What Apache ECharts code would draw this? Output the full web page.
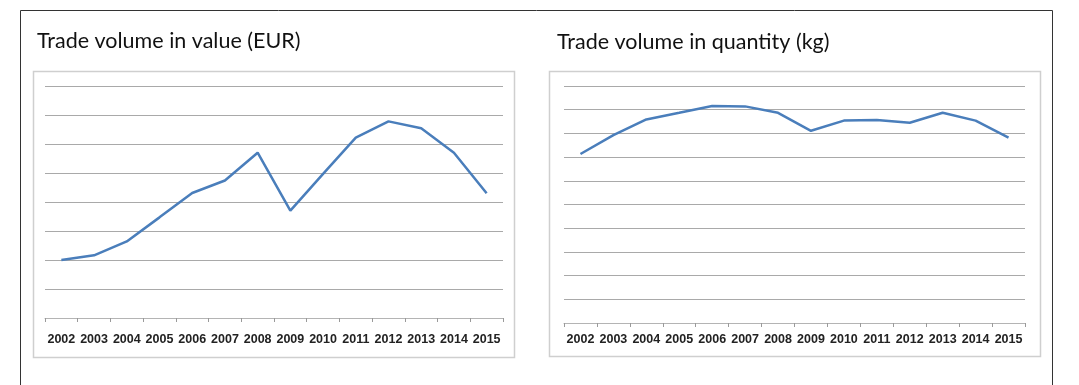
<!DOCTYPE html>
<html>
<head>
<meta charset="utf-8">
<script src="https://cdn.jsdelivr.net/npm/echarts@6/dist/echarts.min.js"></script>
<style>
  html, body { margin: 0; padding: 0; background: #fff; }
  #main { width: 1079px; height: 385px; }
</style>
</head>
<body>
<div id="main"></div>
<script>
// years on the x axis (same for both panels)
var years = ['2002', '2003', '2004', '2005', '2006', '2007', '2008', '2009', '2010', '2011', '2012', '2013', '2014', '2015'];
// trade volume in value (EUR), in gridline units
var valueEur = [2.0, 2.16, 2.64, 3.47, 4.31, 4.74, 5.70, 3.70, 4.97, 6.22, 6.78, 6.54, 5.70, 4.30];
// trade volume in quantity (kg), in gridline units
var quantityKg = [7.13, 7.93, 8.59, 8.87, 9.16, 9.14, 8.87, 8.11, 8.54, 8.57, 8.45, 8.87, 8.54, 7.82];

var lineBlue = '#4a7ebb';
var gridGrey = '#a9a9a9';

function xAxisFor(idx, labelMargin) {
    return {
        type: 'category',
        gridIndex: idx,
        data: years,
        boundaryGap: true,
        axisLine: { show: true, lineStyle: { color: '#b4b4b4', width: 1 } },
        axisTick: { show: true, length: 4, inside: false, lineStyle: { color: '#9a9a9a' } },
        axisLabel: {
            interval: 0,
            color: '#222',
            fontFamily: '"Liberation Sans", Arial, sans-serif',
            fontWeight: 'bold',
            fontSize: 12.5,
            margin: labelMargin
        }
    };
}

function yAxisFor(idx, max) {
    return {
        type: 'value',
        gridIndex: idx,
        min: 0,
        max: max,
        interval: 1,
        axisLine: { show: false },
        axisTick: { show: false },
        axisLabel: { show: false },
        splitLine: { show: true, lineStyle: { color: gridGrey, width: 1 } }
    };
}

var myChart = echarts.init(document.getElementById('main'));
var option = {
    animation: false,
    backgroundColor: '#fff',
    title: [
        { text: 'Trade volume in value (EUR)', left: 32, top: 25,
          textStyle: { fontFamily: 'Lato, sans-serif', fontSize: 21.5, fontWeight: 'normal', color: '#111' } },
        { text: 'Trade volume in quantity (kg)', left: 552, top: 26,
          textStyle: { fontFamily: 'Lato, sans-serif', fontSize: 21.5, fontWeight: 'normal', color: '#111' } }
    ],
    graphic: [
        // outer frame (open at the bottom)
        { type: 'polyline', silent: true, z: 0,
          shape: { points: [[20.5, 400], [20.5, 10.5], [1052.5, 10.5], [1052.5, 400]] },
          style: { stroke: '#333', lineWidth: 1, fill: null } },
        // chart boxes
        { type: 'rect', silent: true, z: 0,
          shape: { x: 33.5, y: 71.5, width: 481, height: 286 },
          style: { stroke: '#cfcfcf', lineWidth: 1.5, fill: null } },
        { type: 'rect', silent: true, z: 0,
          shape: { x: 549.5, y: 71.5, width: 491, height: 285 },
          style: { stroke: '#cfcfcf', lineWidth: 1.5, fill: null } }
    ],
    grid: [
        { left: 45, top: 86, width: 458, height: 232 },
        { left: 564, top: 86, width: 461, height: 237 }
    ],
    xAxis: [xAxisFor(0, 15), xAxisFor(1, 10)],
    yAxis: [yAxisFor(0, 8), yAxisFor(1, 10)],
    series: [
        { name: 'Trade volume in value (EUR)', type: 'line', xAxisIndex: 0, yAxisIndex: 0,
          data: valueEur, showSymbol: false, lineStyle: { color: lineBlue, width: 2.5 } },
        { name: 'Trade volume in quantity (kg)', type: 'line', xAxisIndex: 1, yAxisIndex: 1,
          data: quantityKg, showSymbol: false, lineStyle: { color: lineBlue, width: 2.5 } }
    ]
};
myChart.setOption(option);
</script>
</body>
</html>
